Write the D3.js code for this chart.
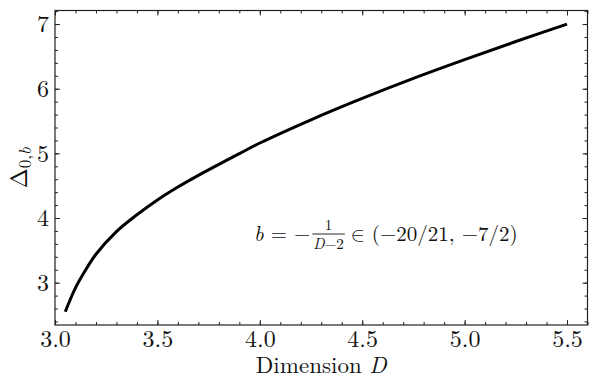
<!DOCTYPE html>
<html>
<head>
<meta charset="utf-8">
<script src="https://cdn.jsdelivr.net/npm/d3@7"></script>
<style>
  html, body { margin: 0; padding: 0; background: #fff; }
  svg text { font-family: 'Latin Modern Roman'; fill: #111; }
</style>
</head>
<body>
<div id="chart"></div>
<script>
// values
const dims = [3.05, 3.1, 3.15, 3.2, 3.3, 3.4, 3.5, 3.6, 3.7, 3.8, 3.9, 4.0, 4.25, 4.5, 4.75, 5.0, 5.25, 5.5];
const deltas = [2.55, 2.92, 3.2, 3.44, 3.79, 4.05, 4.28, 4.48, 4.66, 4.83, 4.995, 5.16, 5.52, 5.85, 6.16, 6.45, 6.73, 7.0];

const xMajor = [3.0, 3.5, 4.0, 4.5, 5.0, 5.5];
const yMajor = [3, 4, 5, 6, 7];
const xMinor = d3.range(30, 57).map((v) => v / 10);
const yMinor = d3.range(12, 37).map((v) => v / 5);

const W = 598, H = 389;
const margin = { top: 10.5, right: 10.5, bottom: 64, left: 55 };
const lm = "'Latin Modern Roman'";

const svg = d3.select("#chart").append("svg").attr("width", W).attr("height", H);

const x = d3.scaleLinear().domain([3.0, 5.6]).range([margin.left, W - margin.right]);
const y = d3.scaleLinear().domain([2.345, 7.21]).range([H - margin.bottom, margin.top]);

const data = dims.map((d, i) => ({ D: d, v: deltas[i] }));

// curve
const line = d3.line().x((d) => x(d.D)).y((d) => y(d.v)).curve(d3.curveCatmullRom.alpha(0.5));
svg.append("path").datum(data)
  .attr("d", line)
  .attr("fill", "none")
  .attr("stroke", "#000")
  .attr("stroke-width", 3);

// axes with inward ticks on all four sides
function addAxis(axis, tx, ty, labels) {
  const g = svg.append("g").attr("transform", `translate(${tx},${ty})`).call(axis);
  g.attr("font-family", null).attr("font-size", null);
  g.select(".domain").remove();
  g.selectAll(".tick line").attr("stroke", "#222").attr("stroke-width", 1);
  if (!labels) g.selectAll(".tick text").remove();
  else g.selectAll(".tick text").style("font-family", lm).style("font-size", "24px").attr("fill", "#111");
  return g;
}
const bottomY = H - margin.bottom, topY = margin.top;
const leftX = margin.left, rightX = W - margin.right;

addAxis(d3.axisBottom(x).tickValues(xMajor).tickFormat(d3.format(".1f")).tickSizeInner(-5).tickPadding(5), 0, bottomY, true);
addAxis(d3.axisBottom(x).tickValues(xMinor).tickSizeInner(-3), 0, bottomY, false);
addAxis(d3.axisTop(x).tickValues(xMajor).tickSizeInner(-5), 0, topY, false);
addAxis(d3.axisTop(x).tickValues(xMinor).tickSizeInner(-3), 0, topY, false);

addAxis(d3.axisLeft(y).tickValues(yMajor).tickFormat(d3.format("d")).tickSizeInner(-5).tickPadding(6), leftX, 0, true);
addAxis(d3.axisLeft(y).tickValues(yMinor).tickSizeInner(-3), leftX, 0, false);
addAxis(d3.axisRight(y).tickValues(yMajor).tickSizeInner(-5), rightX, 0, false);
addAxis(d3.axisRight(y).tickValues(yMinor).tickSizeInner(-3), rightX, 0, false);

// frame
svg.append("rect")
  .attr("x", leftX).attr("y", topY)
  .attr("width", rightX - leftX).attr("height", bottomY - topY)
  .attr("fill", "none").attr("stroke", "#222").attr("stroke-width", 1.2);

// x label
const xlab = svg.append("text")
  .attr("x", (leftX + rightX) / 2).attr("y", 373)
  .attr("text-anchor", "middle").style("font-size", "23px");
xlab.append("tspan").text("Dimension ");
xlab.append("tspan").attr("font-style", "italic").text("D");

// y label
const ylab = svg.append("text")
  .attr("transform", `translate(27,${(topY + bottomY) / 2}) rotate(-90)`)
  .attr("text-anchor", "middle").style("font-size", "24px");
ylab.append("tspan").text("Δ");
ylab.append("tspan").style("font-size", "17px").attr("dy", 4).text("0,");
ylab.append("tspan").style("font-size", "17px").attr("font-style", "italic").text("b");

// annotation: b = −1/(D−2) ∈ (−20/21, −7/2)
const ax = 254, base = 241;
const a1 = svg.append("text").attr("x", ax).attr("y", base).style("font-size", "21px");
a1.append("tspan").attr("font-style", "italic").text("b");
a1.append("tspan").text(" = −");
const w1 = a1.node().getComputedTextLength();

const fracX = ax + w1 + 2;
const den = svg.append("text").attr("y", base + 8).style("font-size", "15px").attr("text-anchor", "middle");
den.append("tspan").attr("font-style", "italic").text("D");
den.append("tspan").text("−2");
const wd = den.node().getComputedTextLength();
den.attr("x", fracX + wd / 2 + 1);
svg.append("text").attr("x", fracX + wd / 2 + 1).attr("y", base - 11)
  .style("font-size", "15px").attr("text-anchor", "middle").text("1");
svg.append("line")
  .attr("x1", fracX).attr("x2", fracX + wd + 2)
  .attr("y1", base - 7).attr("y2", base - 7)
  .attr("stroke", "#111").attr("stroke-width", 0.9);

const a2 = svg.append("text").attr("x", fracX + wd + 8).attr("y", base).style("font-size", "21px");
a2.append("tspan").style("font-family", "'Latin Modern Math'").text("∈");
a2.append("tspan").text(" (−20/21, −7/2)");
</script>
</body>
</html>
